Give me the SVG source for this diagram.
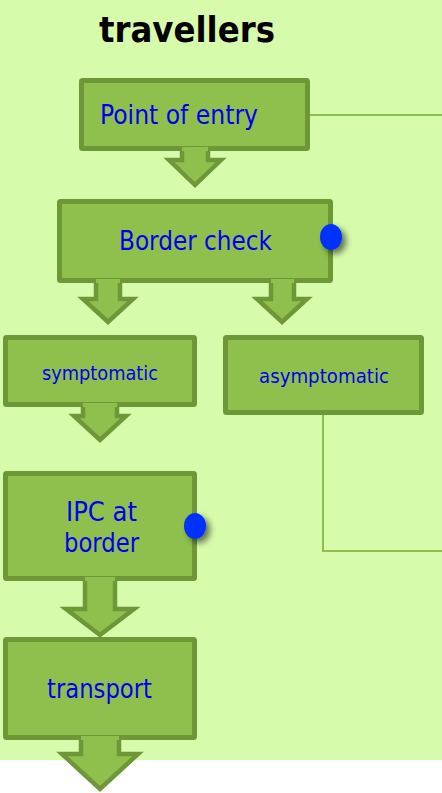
<svg xmlns="http://www.w3.org/2000/svg" width="442" height="793" viewBox="0 0 442 793">
<style>
.box{fill:#8fc04e;stroke:#6e9838;stroke-width:5;stroke-linejoin:round}
.af{fill:#8fc04e;stroke:none}
.as{fill:none;stroke:#6e9838;stroke-width:4.5;stroke-linejoin:miter}
.lbl{font-family:"DejaVu Sans Condensed","DejaVu Sans",sans-serif;fill:#0000ee;text-anchor:middle}
.conn{fill:none;stroke:#8cbf4c;stroke-width:2}
.dot{fill:#0033ff;filter:url(#sh)}
</style>
<defs>
<filter id="sh" x="-50%" y="-50%" width="250%" height="250%">
<feGaussianBlur in="SourceAlpha" stdDeviation="3"/>
<feOffset dx="4" dy="4" result="b"/>
<feComponentTransfer><feFuncA type="linear" slope="0.55"/></feComponentTransfer>
<feMerge><feMergeNode/><feMergeNode in="SourceGraphic"/></feMerge>
</filter>
</defs>
<rect x="0" y="0" width="442" height="760" fill="#d6fbaa"/>
<rect x="0" y="760" width="442" height="33" fill="#ffffff"/>
<text x="187" y="42" font-family="'DejaVu Sans',sans-serif" font-weight="bold" font-size="35" text-anchor="middle" textLength="176" lengthAdjust="spacingAndGlyphs" fill="#000">travellers</text>
<g id="connectors">
<path class="conn" d="M310,115 H442"/>
<path class="conn" d="M323,415 V551 H442"/>
</g>
<g id="point-of-entry">
<rect class="box" x="81.5" y="80.5" width="226" height="68" rx="1"/>
<text class="lbl" x="179" y="124" font-size="26" textLength="158" lengthAdjust="spacingAndGlyphs">Point of entry</text>
<polygon class="af" points="182,147 182,160 169,160 195,185 221,160 208,160 208,147"/>
<path class="as" d="M182,151 V160 H169 L195,185 L221,160 H208 V151"/>
</g>
<g id="border-check">
<rect class="box" x="59.5" y="201.5" width="271" height="79" rx="1"/>
<text class="lbl" x="195.5" y="250" font-size="26" textLength="153" lengthAdjust="spacingAndGlyphs">Border check</text>
<ellipse class="dot" cx="331" cy="237" rx="11" ry="13"/>
<polygon class="af" points="96,279 96,299 83,299 108,322 133,299 120,299 120,279"/>
<path class="as" d="M96,283 V299 H83 L108,322 L133,299 H120 V283"/>
<polygon class="af" points="271,279 271,299 257,299 282,322 307,299 294,299 294,279"/>
<path class="as" d="M271,283 V299 H257 L282,322 L307,299 H294 V283"/>
</g>
<g id="symptomatic">
<rect class="box" x="5.5" y="337.5" width="189" height="67" rx="1"/>
<text class="lbl" x="100" y="380" font-size="19" textLength="116" lengthAdjust="spacingAndGlyphs">symptomatic</text>
<polygon class="af" points="83,403 83,416 74,416 100,440 126,416 117,416 117,403"/>
<path class="as" d="M83,407 V416 H74 L100,440 L126,416 H117 V407"/>
</g>
<g id="asymptomatic">
<rect class="box" x="225.5" y="337.5" width="196" height="75" rx="1"/>
<text class="lbl" x="324" y="383" font-size="19.5" textLength="130" lengthAdjust="spacingAndGlyphs">asymptomatic</text>
</g>
<g id="ipc-at-border">
<rect class="box" x="5.5" y="473.5" width="189" height="105" rx="1"/>
<text class="lbl" x="101.5" y="521" font-size="26" textLength="71" lengthAdjust="spacingAndGlyphs">IPC at</text>
<text class="lbl" x="101.5" y="552" font-size="26" textLength="75" lengthAdjust="spacingAndGlyphs">border</text>
<ellipse class="dot" cx="195" cy="526" rx="11" ry="13"/>
<polygon class="af" points="85,577 85,609 66,609 100,635 134,609 115,609 115,577"/>
<path class="as" d="M85,581 V609 H66 L100,635 L134,609 H115 V581"/>
</g>
<g id="transport">
<rect class="box" x="5.5" y="639.5" width="189" height="98" rx="1"/>
<text class="lbl" x="99.5" y="698" font-size="26" textLength="105" lengthAdjust="spacingAndGlyphs">transport</text>
<polygon class="af" points="81,736 81,754 62,754 100,789 138,754 119,754 119,736"/>
<path class="as" d="M81,740 V754 H62 L100,789 L138,754 H119 V740"/>
</g>
</svg>
